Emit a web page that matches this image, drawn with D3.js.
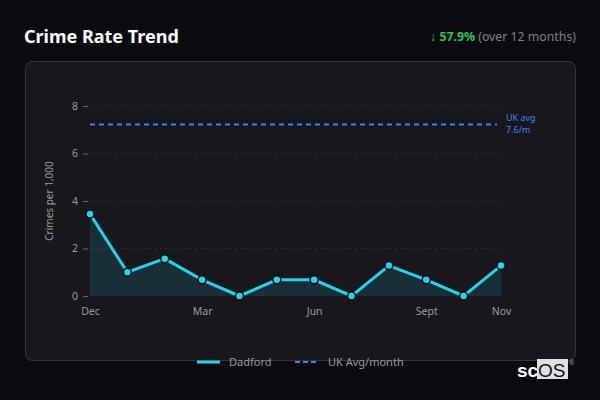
<!DOCTYPE html>
<html><head><meta charset="utf-8">
<script src="https://cdn.jsdelivr.net/npm/d3@7"></script>
<style>
html,body{margin:0;padding:0;background:#0c0c10;}
svg{display:block;}
</style></head>
<body>
<svg id="c" width="600" height="400"></svg>
<script>
const months = ["Dec","Jan","Feb","Mar","Apr","May","Jun","Jul","Aug","Sept","Oct","Nov"];
const dadford = [3.45,1.0,1.57,0.68,0.0,0.68,0.68,0.0,1.28,0.68,0.0,1.28];
const ukAvg = 7.22;
const xTickLabels = ["Dec","Mar","Jun","Sept","Nov"];
const yTicks = [0,2,4,6,8];

const svg = d3.select("#c");
const font = "'Noto Sans', 'Open Sans', sans-serif";

// Title
svg.append("text").attr("x",24).attr("y",43).attr("fill","#ffffff")
  .attr("font-family",font).attr("font-size",18).attr("font-weight","bold").text("Crime Rate Trend");

// Change indicator
const ch = svg.append("text").attr("x",576).attr("y",41).attr("text-anchor","end")
  .attr("font-family",font).attr("font-size",12.3);
ch.append("tspan").attr("fill","#22c55e").text("↓ ");
ch.append("tspan").attr("fill","#22c55e").attr("font-weight","bold").text("57.9%");
ch.append("tspan").attr("fill","#808080").text(" (over 12 months)");

// Panel
svg.append("rect").attr("x",25.5).attr("y",61.5).attr("width",550).attr("height",299)
  .attr("rx",7).attr("fill","#18181c").attr("stroke","#34343a").attr("stroke-width",1);

const x = d3.scalePoint().domain(months).range([90,501]);
const y = d3.scaleLinear().domain([0,8]).range([296,106]);

// Gridlines
svg.append("g").selectAll("line").data(yTicks.filter(d=>d>0)).join("line")
  .attr("x1",90).attr("x2",501).attr("y1",d=>y(d)).attr("y2",d=>y(d))
  .attr("stroke","#2c2c32").attr("stroke-dasharray","2,3").attr("stroke-width",1);

// Y axis
const yAxis = svg.append("g").attr("transform","translate(90,0)")
  .call(d3.axisLeft(y).tickValues(yTicks).tickSize(5).tickPadding(7).tickFormat(d3.format("d")));
yAxis.select(".domain").remove();
yAxis.selectAll("line").attr("stroke","#666").attr("transform","translate(-2,0)");
yAxis.selectAll("text").attr("fill","#9a9a9a").attr("font-family",font).attr("font-size",10.5);

// X axis
const xAxis = svg.append("g").attr("transform","translate(0,296)")
  .call(d3.axisBottom(x).tickValues(xTickLabels).tickSize(0).tickPadding(12));
xAxis.select(".domain").remove();
xAxis.selectAll("text").attr("fill","#9a9a9a").attr("font-family",font).attr("font-size",10.5);

// Y label
svg.append("text").attr("transform","translate(53,201) rotate(-90)").attr("text-anchor","middle")
  .attr("fill","#9a9a9a").attr("font-family",font).attr("font-size",10).text("Crimes per 1,000");

// Area
const area = d3.area().x((d,i)=>x(months[i])).y0(y(0)).y1(d=>y(d));
svg.append("path").datum(dadford).attr("d",area).attr("fill","#22d3ee").attr("fill-opacity",0.13);

// UK avg line
svg.append("line").attr("x1",90).attr("x2",497).attr("y1",y(ukAvg)).attr("y2",y(ukAvg))
  .attr("stroke","#3b82f6").attr("stroke-width",2).attr("stroke-dasharray","5,4");
svg.append("text").attr("x",506).attr("y",y(ukAvg)-4).attr("fill","#3b82f6")
  .attr("font-family",font).attr("font-size",9).text("UK avg");
svg.append("text").attr("x",506).attr("y",y(ukAvg)+8).attr("fill","#3b82f6")
  .attr("font-family",font).attr("font-size",9).text("7.6/m");

// Line
const line = d3.line().x((d,i)=>x(months[i])).y(d=>y(d));
svg.append("path").datum(dadford).attr("d",line).attr("fill","none")
  .attr("stroke","#22d3ee").attr("stroke-width",3);
svg.append("g").selectAll("circle").data(dadford).join("circle")
  .attr("cx",(d,i)=>x(months[i])).attr("cy",d=>y(d)).attr("r",4)
  .attr("fill","#22d3ee").attr("stroke","#0c0c10").attr("stroke-width",1.5);

// Legend
const lg = svg.append("g");
lg.append("line").attr("x1",197).attr("x2",220).attr("y1",362).attr("y2",362)
  .attr("stroke","#22d3ee").attr("stroke-width",3);
lg.append("text").attr("x",229).attr("y",366).attr("fill","#9a9a9a")
  .attr("font-family",font).attr("font-size",11).text("Dadford");
lg.append("line").attr("x1",295).attr("x2",319).attr("y1",362).attr("y2",362)
  .attr("stroke","#3b82f6").attr("stroke-width",2).attr("stroke-dasharray","5,3");
lg.append("text").attr("x",328).attr("y",366).attr("fill","#9a9a9a")
  .attr("font-family",font).attr("font-size",11).text("UK Avg/month");

// Logo
svg.append("text").attr("x",517).attr("y",377).attr("fill","#ffffff")
  .attr("font-family","'Liberation Sans', Arial, sans-serif").attr("font-size",19).attr("font-weight","bold").text("sc");
svg.append("rect").attr("x",537).attr("y",359).attr("width",31).attr("height",20).attr("fill","#e0e0e0");
svg.append("text").attr("x",538).attr("y",377).attr("fill","#111")
  .attr("font-family","'Liberation Sans', Arial, sans-serif").attr("font-size",19).text("OS");
svg.append("text").attr("x",569).attr("y",365).attr("fill","#aaa")
  .attr("font-family","sans-serif").attr("font-size",7).text("®");
</script>
</body></html>
